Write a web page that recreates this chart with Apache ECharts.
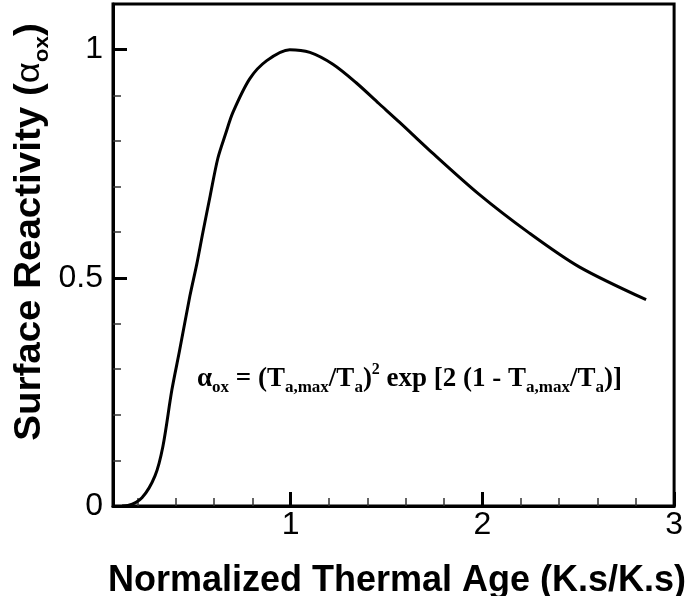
<!DOCTYPE html>
<html><head><meta charset="utf-8">
<script src="https://cdn.jsdelivr.net/npm/echarts@6/dist/echarts.min.js"></script>
<style>html,body{margin:0;padding:0;background:#fff}#c{width:686px;height:596px}</style>
</head><body><div id="c"></div>
<script>
// Data
var ageValues = [0.12, 0.151, 0.224, 0.292, 0.333, 0.38, 0.42, 0.474, 0.51, 0.542, 0.58, 0.62, 0.66, 0.698, 0.786, 0.875, 0.995, 1.10, 1.22, 1.34, 1.46, 1.57, 1.72, 1.98, 2.245, 2.505, 2.854];
var reactivityValues = [0.0, 0.001, 0.018, 0.066, 0.13, 0.254, 0.34, 0.46, 0.53, 0.60, 0.68, 0.762, 0.815, 0.862, 0.936, 0.976, 1.0, 0.994, 0.968, 0.928, 0.882, 0.840, 0.781, 0.684, 0.598, 0.524, 0.452];
var xMajorTicks = [1, 2, 3];
var xMinorTicks = [0.2, 0.4, 0.6, 0.8, 1.2, 1.4, 1.6, 1.8, 2.2, 2.4, 2.6, 2.8];
var yMajorTicks = [0, 0.5, 1];
var yMinorTicks = [0.1, 0.2, 0.3, 0.4, 0.6, 0.7, 0.8, 0.9];
var xMin = 0.073, xMax = 3, yMin = 0, yMax = 1.1;

var seriesData = ageValues.map(function (x, i) { return [x, reactivityValues[i]]; });
var SANS = 'Liberation Sans, Arial, Helvetica, sans-serif';
var SERIF = 'Liberation Serif, Times New Roman, serif';

function tickAxis(type, values, len, width, color) {
  return {
    type: 'value', min: type === 'x' ? xMin : yMin, max: type === 'x' ? xMax : yMax, gridIndex: 0,
    position: type === 'x' ? 'bottom' : 'left',
    axisLine: {show: false},
    axisTick: {show: true, inside: true, length: len, customValues: values, lineStyle: {color: color, width: width}},
    axisLabel: {show: false},
    splitLine: {show: false}
  };
}

var chart = echarts.init(document.getElementById('c'), null, {renderer: 'canvas'});
chart.setOption({
  animation: false,
  backgroundColor: '#fff',
  grid: {left: 113, right: 11, top: 4, bottom: 90, show: true, borderColor: '#000', borderWidth: 3, backgroundColor: 'transparent'},
  xAxis: [{
    type: 'value', min: xMin, max: xMax,
    axisLine: {show: true, lineStyle: {color: '#000', width: 3}},
    axisTick: {show: false},
    axisLabel: {customValues: xMajorTicks, color: '#000', fontSize: 32, fontFamily: SANS, margin: 3},
    splitLine: {show: false}
  }, tickAxis('x', xMajorTicks, 14, 3, '#000'), tickAxis('x', xMinorTicks, 8, 1.5, '#333')],
  yAxis: [{
    type: 'value', min: yMin, max: yMax,
    axisLine: {show: true, lineStyle: {color: '#000', width: 3}},
    axisTick: {show: false},
    axisLabel: {customValues: yMajorTicks, color: '#000', fontSize: 32, fontFamily: SANS, margin: 10},
    splitLine: {show: false}
  }, tickAxis('y', yMajorTicks, 14, 3, '#000'), tickAxis('y', yMinorTicks, 8, 1.5, '#333')],
  series: [{
    type: 'line', xAxisIndex: 0, yAxisIndex: 0,
    data: seriesData, showSymbol: false, smooth: 0.3,
    lineStyle: {color: '#000', width: 3}
  }],
  graphic: [{
    type: 'text', x: 397, y: 581,
    style: {text: 'Normalized Thermal Age (K.s/K.s)', font: 'bold 36px ' + SANS, fill: '#000', align: 'center', verticalAlign: 'middle'}
  }, {
    type: 'text', x: 30, y: 232, rotation: Math.PI / 2, scaleX: 1.07,
    style: {
      text: 'Surface Reactivity ({a|α}{s|ox})', fill: '#000', align: 'center', verticalAlign: 'middle',
      font: 'bold 36px ' + SANS,
      rich: {
        a: {fontSize: 34, fontFamily: SANS, fontWeight: 'normal', lineHeight: 46, verticalAlign: 'middle'},
        s: {fontSize: 21, fontFamily: SANS, fontWeight: 'bold', lineHeight: 21, verticalAlign: 'bottom'}
      },
      lineHeight: 46
    }
  }, {
    type: 'text', x: 197, y: 379,
    style: {
      text: '{m|α}{s|ox}{m| = (T}{s|a,max}{m|/T}{s|a}{m|)}{p|2}{m| exp [2 (1 - T}{s|a,max}{m|/T}{s|a}{m|)]}',
      fill: '#000', align: 'left', verticalAlign: 'middle',
      rich: {
        m: {fontSize: 27, fontFamily: SERIF, fontWeight: 'bold', lineHeight: 34, verticalAlign: 'middle'},
        s: {fontSize: 17, fontFamily: SERIF, fontWeight: 'bold', lineHeight: 17, verticalAlign: 'bottom'},
        p: {fontSize: 16, fontFamily: SERIF, fontWeight: 'bold', lineHeight: 21, verticalAlign: 'top'}
      }
    }
  }]
});
</script>
</body></html>
